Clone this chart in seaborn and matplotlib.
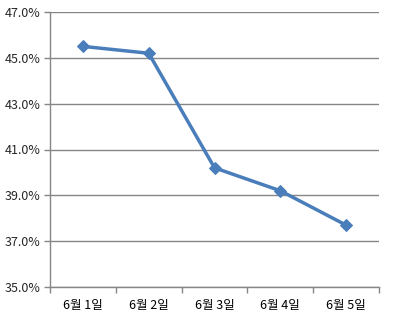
import matplotlib
matplotlib.use("Agg")
import matplotlib.pyplot as plt
import seaborn as sns
import pandas as pd
from matplotlib.ticker import FuncFormatter, FixedLocator

categories = ["6월 1일", "6월 2일", "6월 3일", "6월 4일", "6월 5일"]
values = [45.5, 45.2, 40.2, 39.2, 37.7]
yticks = [35, 37, 39, 41, 43, 45, 47]

sns.set_style("white")
plt.rcParams['font.family'] = ['Noto Sans CJK KR', 'DejaVu Sans']

df = pd.DataFrame({"date": categories, "value": values})
df["x"] = range(len(categories))

fig = plt.figure(figsize=(3.95, 3.22), dpi=100)
ax = fig.add_axes([50/395, 1-287/322, 329/395, 275/322])

sns.lineplot(data=df, x="x", y="value", ax=ax, color="#4A7EBB", linewidth=2.5,
             marker="D", markersize=6.5, markeredgecolor="#4A7EBB", markerfacecolor="#4A7EBB")

ax.set_xlim(-0.5, 4.5)
ax.set_ylim(35, 47)
ax.set_yticks(yticks)
ax.yaxis.set_major_formatter(FuncFormatter(lambda v, p: f"{v:.1f}%"))
ax.set_xticks(range(len(categories)))
ax.set_xticklabels(categories)
ax.xaxis.set_minor_locator(FixedLocator([-0.5, 0.5, 1.5, 2.5, 3.5, 4.5]))
ax.tick_params(axis='x', which='major', length=0, pad=9, labelsize=9, colors='black')
ax.tick_params(axis='x', which='minor', length=4, color='#868686', width=1, bottom=True)
ax.tick_params(axis='y', length=4, color='#868686', width=1, labelsize=9, left=True, pad=3)
ax.set_xlabel("")
ax.set_ylabel("")
ax.grid(axis='y', color='#868686', linewidth=1)
ax.set_axisbelow(True)
for s in ['top', 'right']:
    ax.spines[s].set_visible(False)
for s in ['left', 'bottom']:
    ax.spines[s].set_color('#868686')
    ax.spines[s].set_linewidth(1)

fig.savefig("out.png", dpi=100)
